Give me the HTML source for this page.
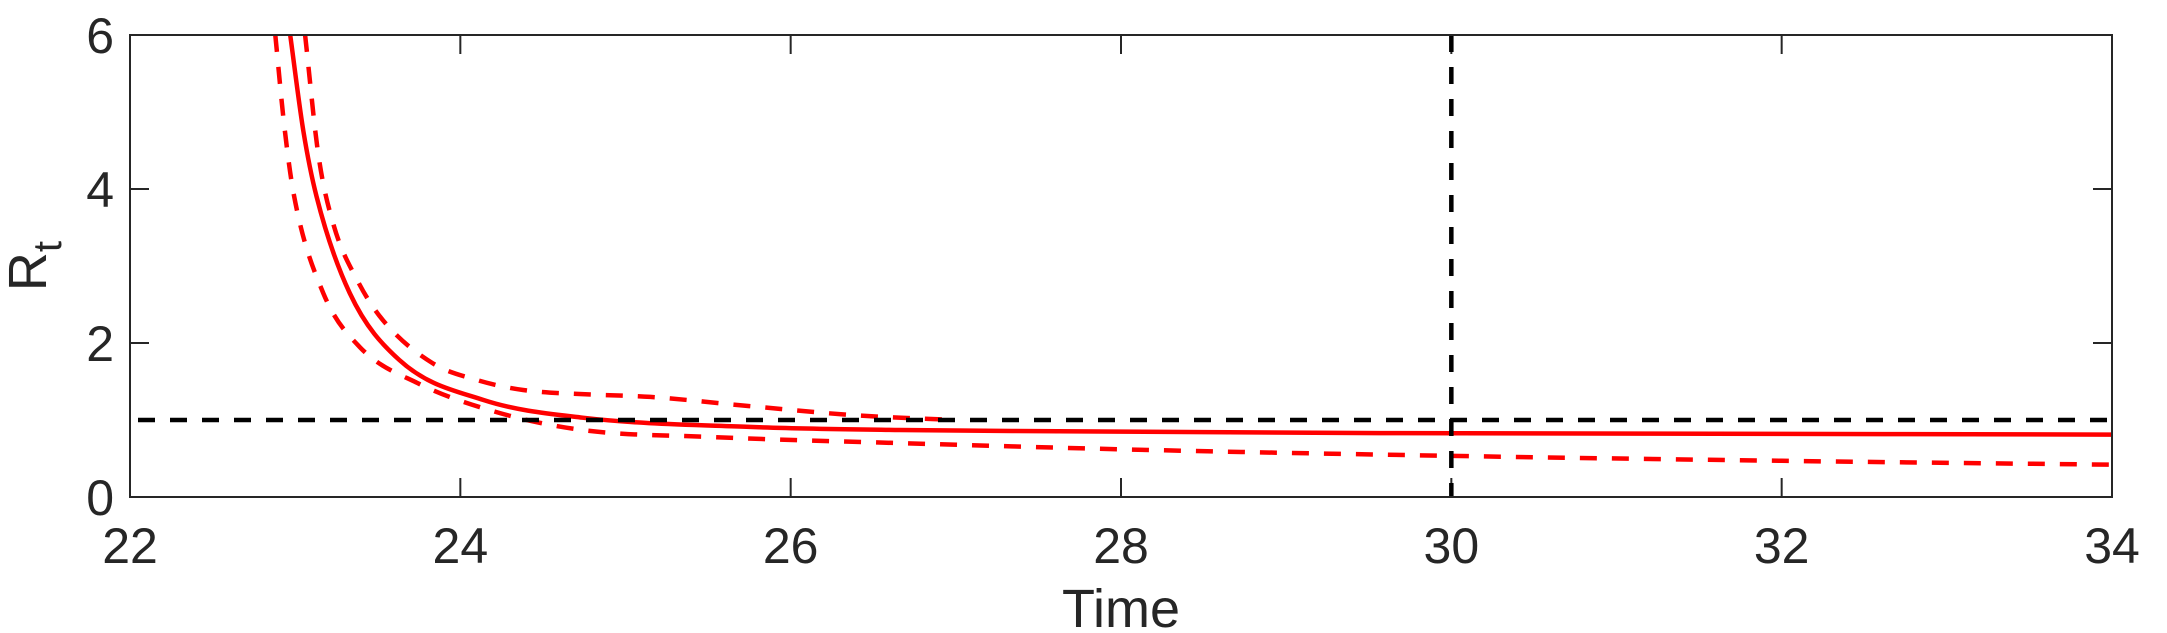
<!DOCTYPE html>
<html><head><meta charset="utf-8"><style>
html,body{margin:0;padding:0;background:#fff;}
svg{display:block;font-family:"Liberation Sans",Arial,sans-serif;}
</style></head><body>
<svg id="chart" width="2167" height="633" viewBox="0 0 2167 633" xmlns="http://www.w3.org/2000/svg">
<g id="ticks"></g>
<g id="series"></g>
<rect x="130" y="35" width="1982" height="462" fill="none" stroke="#262626" stroke-width="2"/>
<text x="1121" y="627" font-size="54" fill="#262626" text-anchor="middle">Time</text>
<text transform="translate(46,266) rotate(-90)" font-size="54" fill="#262626" text-anchor="middle">R<tspan font-size="40" dy="15">t</tspan></text>
</svg>
<script>
const xTicks = [22, 24, 26, 28, 30, 32, 34];
const yTicks = [0, 2, 4, 6];
const tMean = [22.97, 23.05, 23.13, 23.33, 23.63, 24.14, 24.74, 25.75, 26.66, 28.0, 29.57, 32.0, 34.0];
const rMean = [6.0, 4.75, 3.9, 2.65, 1.78, 1.26, 1.03, 0.91, 0.87, 0.85, 0.83, 0.82, 0.81];
const tUpper = [23.06, 23.14, 23.23, 23.38, 23.53, 23.83, 24.1, 24.38, 24.8, 25.15, 25.75, 26.4, 27.0];
const rUpper = [6.0, 4.45, 3.55, 2.8, 2.3, 1.74, 1.52, 1.39, 1.33, 1.30, 1.18, 1.06, 1.0];
const tLower = [22.88, 22.93, 22.99, 23.17, 23.39, 23.74, 24.24, 24.74, 25.5, 26.66, 28.0, 29.57, 32.0, 34.0];
const rLower = [6.0, 4.9, 3.95, 2.65, 1.95, 1.48, 1.09, 0.87, 0.78, 0.70, 0.62, 0.55, 0.47, 0.42];
const thresholdR = 1;
const interventionT = 30;

const X0 = 130, X1 = 2112, Y0 = 497, Y1 = 35;
const xMin = 22, xMax = 34, yMin = 0, yMax = 6;
const sx = t => X0 + (t - xMin) / (xMax - xMin) * (X1 - X0);
const sy = r => Y0 - (r - yMin) / (yMax - yMin) * (Y0 - Y1);
const NS = 'http://www.w3.org/2000/svg';
const ticks = document.getElementById('ticks');
const series = document.getElementById('series');

function mk(tag, attrs, parent) {
  const e = document.createElementNS(NS, tag);
  for (const k in attrs) e.setAttribute(k, attrs[k]);
  parent.appendChild(e);
  return e;
}

xTicks.forEach(v => {
  const x = sx(v);
  const l1 = mk('line', {x1: x, x2: x, y1: Y0, y2: Y0 - 19, stroke: '#262626', 'stroke-width': 2}, ticks);
  
  
  const l2 = mk('line', {x1: x, x2: x, y1: Y1, y2: Y1 + 19, stroke: '#262626', 'stroke-width': 2}, ticks);
  
  
  const t = mk('text', {x: x, y: 563, 'font-size': 50, fill: '#262626', 'text-anchor': 'middle'}, ticks);
  t.textContent = v;
  
  
});
yTicks.forEach(v => {
  const y = sy(v);
  const l1 = mk('line', {x1: X0, x2: X0 + 19, y1: y, y2: y, stroke: '#262626', 'stroke-width': 2}, ticks);
  
  
  const l2 = mk('line', {x1: X1, x2: X1 - 19, y1: y, y2: y, stroke: '#262626', 'stroke-width': 2}, ticks);
  
  
  const t = mk('text', {x: 114, y: y + 18, 'font-size': 50, fill: '#262626', 'text-anchor': 'end'}, ticks);
  t.textContent = v;
  
  
});

// monotone cubic (Fritsch-Carlson) smoothing in pixel space
function path(ts, rs) {
  const xs = ts.map(sx), ys = rs.map(sy), n = xs.length;
  const d = [], m = new Array(n);
  for (let i = 0; i < n - 1; i++) d.push((ys[i + 1] - ys[i]) / (xs[i + 1] - xs[i]));
  m[0] = d[0]; m[n - 1] = d[n - 2];
  for (let i = 1; i < n - 1; i++) m[i] = (d[i - 1] * d[i] <= 0) ? 0 : (d[i - 1] + d[i]) / 2;
  for (let i = 0; i < n - 1; i++) {
    if (d[i] === 0) { m[i] = 0; m[i + 1] = 0; continue; }
    const a = m[i] / d[i], b = m[i + 1] / d[i], s = a * a + b * b;
    if (s > 9) { const tau = 3 / Math.sqrt(s); m[i] = tau * a * d[i]; m[i + 1] = tau * b * d[i]; }
  }
  let p = 'M' + xs[0].toFixed(1) + ',' + ys[0].toFixed(1);
  for (let i = 0; i < n - 1; i++) {
    const h = xs[i + 1] - xs[i];
    p += ' C' + (xs[i] + h / 3).toFixed(1) + ',' + (ys[i] + m[i] * h / 3).toFixed(1) + ' ' +
      (xs[i + 1] - h / 3).toFixed(1) + ',' + (ys[i + 1] - m[i + 1] * h / 3).toFixed(1) + ' ' +
      xs[i + 1].toFixed(1) + ',' + ys[i + 1].toFixed(1);
  }
  return p;
}
const clip = mk('clipPath', {id: 'pc'}, series);
mk('rect', {x: X0, y: Y1, width: X1 - X0, height: Y0 - Y1}, clip);
const g = mk('g', {'clip-path': 'url(#pc)'}, series);

const lo = mk('path', {d: path(tLower, rLower), fill: 'none', stroke: '#ff0000', 'stroke-width': 4.5, 'stroke-dasharray': '17 15'}, g);


const up = mk('path', {d: path(tUpper, rUpper), fill: 'none', stroke: '#ff0000', 'stroke-width': 4.5, 'stroke-dasharray': '17 15'}, g);


const mean = mk('path', {d: path(tMean, rMean), fill: 'none', stroke: '#ff0000', 'stroke-width': 4.5}, g);


const hl = mk('line', {x1: X0 + 8, x2: X1, y1: sy(thresholdR), y2: sy(thresholdR), stroke: '#000', 'stroke-width': 4.5, 'stroke-dasharray': '17 15'}, g);


const vl = mk('line', {x1: sx(interventionT), x2: sx(interventionT), y1: Y1, y2: Y0, stroke: '#000', 'stroke-width': 4.5, 'stroke-dasharray': '17 15'}, g);


</script>
</body></html>
